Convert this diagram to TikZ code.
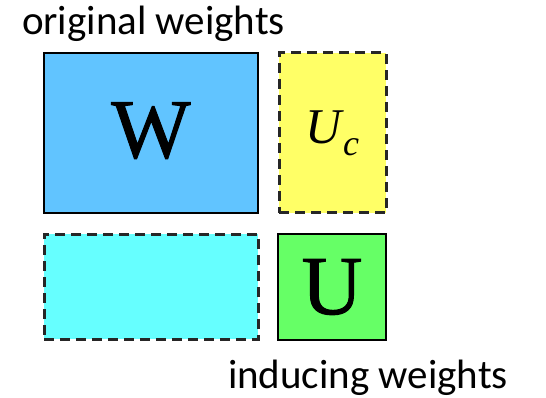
\documentclass[tikz,border=0pt]{standalone}
\usepackage{fontspec}
\setmainfont{Carlito}
\newfontfamily\serifbox{Liberation Serif}
\newfontfamily\serifheavy[FakeBold=1.2]{Liberation Serif}
\definecolor{wblue}{RGB}{97,196,255}
\definecolor{ucyellow}{RGB}{255,255,102}
\definecolor{lcyan}{RGB}{102,255,255}
\definecolor{ugreen}{RGB}{102,255,102}
\tikzset{
  mat/.style={draw=black, line width=2.6pt, inner sep=0pt, outer sep=0pt},
  solidmat/.style={mat},
  dashmat/.style={mat, line width=3pt, draw=black!85, dash pattern=on 10pt off 6pt},
  lbl/.style={inner sep=0pt, outer sep=0pt, font=\fontsize{41}{48}\selectfont},
  big/.style={font=\serifheavy\fontsize{84}{90}\selectfont},
}
\begin{document}
\begin{tikzpicture}[x=1pt,y=-1pt]
\useasboundingbox (0,0) rectangle (546,398);
\node[solidmat, fill=wblue, minimum width=214pt, minimum height=160pt, big, text depth=6pt] (W) at (151,133) {W};
\node[dashmat, fill=ucyellow, minimum width=107pt, minimum height=160pt, font=\serifbox\fontsize{50}{54}\selectfont] (Uc) at (332.5,133) {\itshape U\kern1pt\raisebox{-0.24em}{\fontsize{36}{38}\selectfont c}};
\node[dashmat, fill=lcyan, minimum width=214pt, minimum height=105pt] (C) at (151,286.5) {};
\node[solidmat, fill=ugreen, minimum width=108pt, minimum height=106pt, big] (U) at (332,287) {U};
\node[lbl, anchor=base west] (orig) at (22,35) {original weights};
\node[lbl, anchor=base west] (ind) at (228,388) {inducing weights};
\end{tikzpicture}
\end{document}
